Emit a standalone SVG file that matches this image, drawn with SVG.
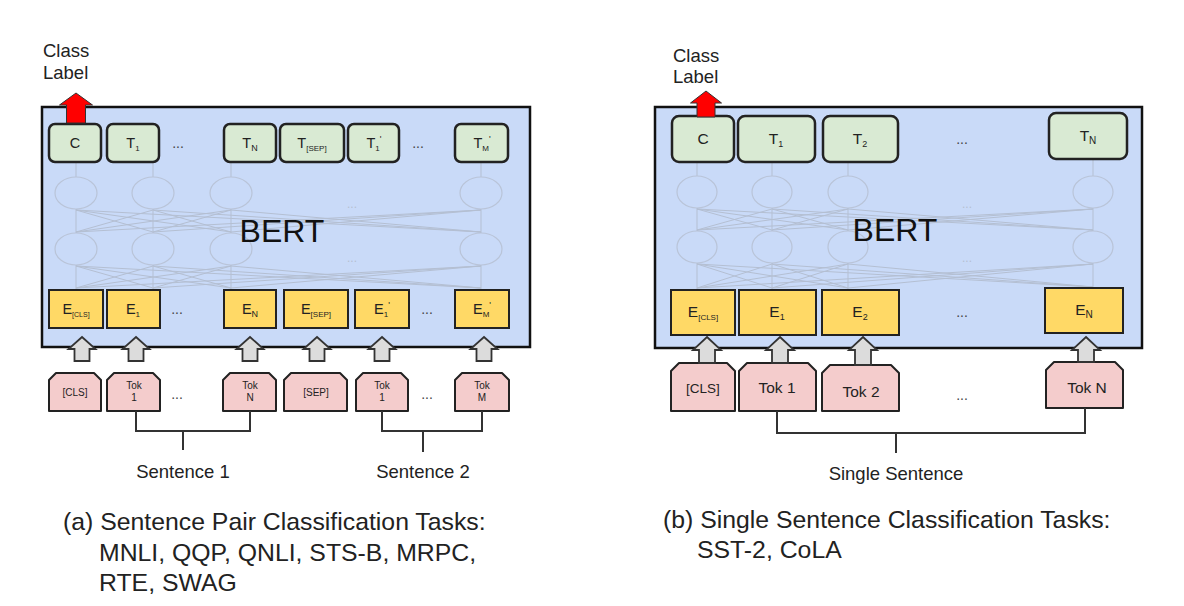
<svg xmlns="http://www.w3.org/2000/svg" width="1184" height="606" viewBox="0 0 1184 606">
<defs>
<style>
text{font-family:"Liberation Sans",Arial,sans-serif;fill:#222}
.bert{fill:#c9daf8;stroke:#111;stroke-width:2.5}
.tbox{fill:#d9ead3;stroke:#222;stroke-width:2.5}
.ebox{fill:#ffd966;stroke:#222;stroke-width:2}
.tok{fill:#f4cccc;stroke:#222;stroke-width:2;stroke-linejoin:round}
.garr{fill:#dcdcdc;stroke:#333;stroke-width:1.8;stroke-linejoin:miter}
.rarr{fill:#ff0000;stroke:#333;stroke-width:1}
.br{fill:none;stroke:#333;stroke-width:2}
.net{fill:none;stroke:#b4bfd2;stroke-width:1}
.nc{fill:none;stroke:#b9c4d8;stroke-width:1.2}
.lbl{font-size:14.5px;text-anchor:middle}
.lblr{font-size:15.5px;text-anchor:middle}
.sm{font-size:10px;text-anchor:middle}
.dots{font-size:14px;text-anchor:middle;fill:#444}
.fd{font-size:12px;text-anchor:middle;fill:#b5bfd0}
.big{font-size:32px;text-anchor:middle;fill:#111}
.cap{font-size:18.5px}
.capb{font-size:24.8px}
</style>
</defs>
<rect width="1184" height="606" fill="#fff"/>

<!-- ================= LEFT PANEL ================= -->
<g id="bert-a">
<rect class="bert" x="42" y="107" width="488" height="240"/>
<g id="net-a">
<line class="net" x1="76" y1="162" x2="76" y2="177"/>
<line class="net" x1="153" y1="162" x2="153" y2="177"/>
<line class="net" x1="231" y1="162" x2="231" y2="177"/>
<line class="net" x1="481" y1="162" x2="481" y2="177"/>
<ellipse class="nc" cx="76" cy="193" rx="21" ry="16"/>
<ellipse class="nc" cx="153" cy="193" rx="21" ry="16"/>
<ellipse class="nc" cx="231" cy="193" rx="21" ry="16"/>
<ellipse class="nc" cx="481" cy="193" rx="21" ry="16"/>
<ellipse class="nc" cx="76" cy="249" rx="21" ry="16"/>
<ellipse class="nc" cx="153" cy="249" rx="21" ry="16"/>
<ellipse class="nc" cx="231" cy="249" rx="21" ry="16"/>
<ellipse class="nc" cx="481" cy="249" rx="21" ry="16"/>
<path class="net" d="M76 209V233M153 209V233M231 209V233M481 209V233M76 210L153 232M76 210L231 232M76 210L481 232M153 210L76 232M153 210L231 232M153 210L481 232M231 210L76 232M231 210L153 232M231 210L481 232M481 210L76 232M481 210L153 232M481 210L231 232"/>
<path class="net" d="M76 265V289M153 265V289M231 265V289M481 265V289M76 266L153 288M76 266L231 288M76 266L481 288M153 266L76 288M153 266L231 288M153 266L481 288M231 266L76 288M231 266L153 288M231 266L481 288M481 266L76 288M481 266L153 288M481 266L231 288"/>
<text class="fd" x="352" y="208">...</text>
<text class="fd" x="352" y="262">...</text>
</g>
<text class="big" x="282" y="242">BERT</text>
</g>

<g id="out-a">
<g id="a-C"><rect class="tbox" x="49" y="124" width="52" height="38" rx="6"/><text class="lbl" x="75" y="148">C</text></g>
<g id="a-T1"><rect class="tbox" x="107" y="124" width="52" height="38" rx="6"/><text class="lbl" x="133" y="148">T<tspan font-size="8" dy="3">1</tspan></text></g>
<text class="dots" x="178" y="148">...</text>
<g id="a-TN"><rect class="tbox" x="224" y="124" width="52" height="38" rx="6"/><text class="lbl" x="250" y="148">T<tspan font-size="9" dy="3">N</tspan></text></g>
<g id="a-TSEP"><rect class="tbox" x="280" y="124" width="64" height="38" rx="6"/><text class="lbl" x="312" y="148">T<tspan font-size="8" dy="3">[SEP]</tspan></text></g>
<g id="a-T1p"><rect class="tbox" x="348" y="124" width="51" height="38" rx="6"/><text class="lbl" x="374" y="148">T<tspan font-size="8" dy="3">1</tspan><tspan font-size="9" dy="-9">'</tspan></text></g>
<text class="dots" x="418" y="148">...</text>
<g id="a-TMp"><rect class="tbox" x="455" y="124" width="53" height="38" rx="6"/><text class="lbl" x="482" y="148">T<tspan font-size="8" dy="3">M</tspan><tspan font-size="9" dy="-9">'</tspan></text></g>
</g>

<g id="emb-a">
<g id="a-ECLS"><rect class="ebox" x="49" y="290" width="54" height="38"/><text class="lbl" x="76" y="314">E<tspan font-size="7" dy="3">[CLS]</tspan></text></g>
<g id="a-E1"><rect class="ebox" x="107" y="290" width="53" height="38"/><text class="lbl" x="133" y="314">E<tspan font-size="8" dy="3">1</tspan></text></g>
<text class="dots" x="177" y="314">...</text>
<g id="a-EN"><rect class="ebox" x="224" y="290" width="52" height="38"/><text class="lbl" x="250" y="314">E<tspan font-size="9" dy="3">N</tspan></text></g>
<g id="a-ESEP"><rect class="ebox" x="284" y="290" width="64" height="38"/><text class="lbl" x="316" y="314">E<tspan font-size="8" dy="3">[SEP]</tspan></text></g>
<g id="a-E1p"><rect class="ebox" x="355" y="290" width="54" height="38"/><text class="lbl" x="382" y="314">E<tspan font-size="8" dy="3">1</tspan><tspan font-size="9" dy="-9">'</tspan></text></g>
<text class="dots" x="427" y="314">...</text>
<g id="a-EMp"><rect class="ebox" x="455" y="290" width="54" height="38"/><text class="lbl" x="482" y="314">E<tspan font-size="8" dy="3">M</tspan><tspan font-size="9" dy="-9">'</tspan></text></g>
</g>

<g id="tok-a">
<g id="a-tCLS"><path class="tok" d="M49 380L56 373H94L101 380V411H49Z"/><text class="sm" x="75" y="396" font-size="8.5">[CLS]</text></g>
<g id="a-tok1"><path class="tok" d="M107 380L114 373H153L160 380V411H107Z"/><text class="sm" x="134" y="389">Tok</text><text class="sm" x="134" y="401">1</text></g>
<text class="dots" x="177" y="399">...</text>
<g id="a-tokN"><path class="tok" d="M223 380L230 373H269L276 380V411H223Z"/><text class="sm" x="250" y="389">Tok</text><text class="sm" x="250" y="401">N</text></g>
<g id="a-tSEP"><path class="tok" d="M284 380L291 373H340L347 380V411H284Z"/><text class="sm" x="316" y="396" font-size="8.5">[SEP]</text></g>
<g id="a-tok1p"><path class="tok" d="M356 380L363 373H401L408 380V411H356Z"/><text class="sm" x="382" y="389">Tok</text><text class="sm" x="382" y="401">1</text></g>
<text class="dots" x="427" y="399">...</text>
<g id="a-tokM"><path class="tok" d="M455 380L462 373H502L509 380V411H455Z"/><text class="sm" x="482" y="389">Tok</text><text class="sm" x="482" y="401">M</text></g>
</g>

<g id="labels-a">
<text class="cap" x="43" y="57">Class</text>
<text class="cap" x="43" y="79">Label</text>
<text class="cap" x="183" y="478" text-anchor="middle">Sentence 1</text>
<text class="cap" x="423" y="478" text-anchor="middle">Sentence 2</text>
<text class="capb" x="63" y="530">(a) Sentence Pair Classification Tasks:</text>
<text class="capb" x="99" y="561">MNLI, QQP, QNLI, STS-B, MRPC,</text>
<text class="capb" x="99" y="591">RTE, SWAG</text>
</g>

<!-- ================= RIGHT PANEL ================= -->
<g id="bert-b">
<rect class="bert" x="655" y="107" width="487" height="241"/>
<g id="net-b">
<line class="net" x1="697" y1="162" x2="697" y2="176"/>
<line class="net" x1="772" y1="162" x2="772" y2="176"/>
<line class="net" x1="848" y1="162" x2="848" y2="176"/>
<line class="net" x1="1093" y1="159" x2="1093" y2="176"/>
<ellipse class="nc" cx="697" cy="192" rx="20" ry="16"/>
<ellipse class="nc" cx="772" cy="192" rx="20" ry="16"/>
<ellipse class="nc" cx="848" cy="192" rx="20" ry="16"/>
<ellipse class="nc" cx="1093" cy="192" rx="20" ry="16"/>
<ellipse class="nc" cx="697" cy="247" rx="20" ry="16"/>
<ellipse class="nc" cx="772" cy="247" rx="20" ry="16"/>
<ellipse class="nc" cx="848" cy="247" rx="20" ry="16"/>
<ellipse class="nc" cx="1093" cy="247" rx="20" ry="16"/>
<path class="net" d="M697 208V231M772 208V231M848 208V231M1093 208V231M697 209L772 230M697 209L848 230M697 209L1093 230M772 209L697 230M772 209L848 230M772 209L1093 230M848 209L697 230M848 209L772 230M848 209L1093 230M1093 209L697 230M1093 209L772 230M1093 209L848 230"/>
<path class="net" d="M697 263V289M772 263V289M848 263V289M1093 263V288M697 264L772 288M697 264L848 288M697 264L1093 287M772 264L697 288M772 264L848 288M772 264L1093 287M848 264L697 288M848 264L772 288M848 264L1093 287M1093 264L697 288M1093 264L772 288M1093 264L848 288"/>
<text class="fd" x="967" y="208">...</text>
<text class="fd" x="967" y="262">...</text>
</g>
<text class="big" x="895" y="241">BERT</text>
</g>

<g id="out-b">
<g id="b-C"><rect class="tbox" x="672" y="116" width="62" height="46" rx="7"/><text class="lblr" x="703" y="144">C</text></g>
<g id="b-T1"><rect class="tbox" x="738" y="116" width="77" height="46" rx="7"/><text class="lblr" x="776" y="144">T<tspan font-size="9" dy="3">1</tspan></text></g>
<g id="b-T2"><rect class="tbox" x="823" y="116" width="75" height="46" rx="7"/><text class="lblr" x="860" y="144">T<tspan font-size="9" dy="3">2</tspan></text></g>
<text class="dots" x="962" y="144">...</text>
<g id="b-TN"><rect class="tbox" x="1049" y="113" width="78" height="46" rx="7"/><text class="lblr" x="1088" y="141">T<tspan font-size="10" dy="3">N</tspan></text></g>
</g>

<g id="emb-b">
<g id="b-ECLS"><rect class="ebox" x="671" y="290" width="64" height="45"/><text class="lblr" x="703" y="317">E<tspan font-size="8" dy="3">[CLS]</tspan></text></g>
<g id="b-E1"><rect class="ebox" x="739" y="290" width="77" height="45"/><text class="lblr" x="777" y="317">E<tspan font-size="9" dy="3">1</tspan></text></g>
<g id="b-E2"><rect class="ebox" x="822" y="290" width="77" height="45"/><text class="lblr" x="860" y="317">E<tspan font-size="9" dy="3">2</tspan></text></g>
<text class="dots" x="962" y="317">...</text>
<g id="b-EN"><rect class="ebox" x="1045" y="288" width="78" height="45"/><text class="lblr" x="1084" y="315">E<tspan font-size="10" dy="3">N</tspan></text></g>
</g>

<g id="tok-b">
<g id="b-tCLS"><path class="tok" d="M671 371L679 363H727L735 371V411H671Z"/><text x="703" y="393" font-size="13.5" text-anchor="middle">[CLS]</text></g>
<g id="b-tok1"><path class="tok" d="M739 371L747 363H808L816 371V411H739Z"/><text x="777" y="393" font-size="15.5" text-anchor="middle">Tok 1</text></g>
<g id="b-tok2"><path class="tok" d="M822 373L830 365H891L899 373V411H822Z"/><text x="861" y="397" font-size="15.5" text-anchor="middle">Tok 2</text></g>
<text class="dots" x="962" y="400">...</text>
<g id="b-tokN"><path class="tok" d="M1046 370L1054 362H1115L1123 370V408H1046Z"/><text x="1087" y="393" font-size="15.5" text-anchor="middle">Tok N</text></g>
</g>

<g id="labels-b">
<text class="cap" x="673" y="62">Class</text>
<text class="cap" x="673" y="83">Label</text>
<text class="cap" x="896" y="480" text-anchor="middle">Single Sentence</text>
<text class="capb" x="663" y="528">(b) Single Sentence Classification Tasks:</text>
<text class="capb" x="697" y="558">SST-2, CoLA</text>
</g>

<!-- ================= CONNECTORS ================= -->
<g id="connectors">
<path class="rarr" d="M76 93L92.5 105H85.5V123H66.5V105H59.5Z"/>
<path class="rarr" d="M706 91L721.5 103H715V117H697V103H690.5Z"/>
<path class="garr" d="M82 337L95.5 349H89.5V361H74.5V349H68.5Z"/>
<path class="garr" d="M136 337L149.5 349H143.5V361H128.5V349H122.5Z"/>
<path class="garr" d="M250 337L263.5 349H257.5V361H242.5V349H236.5Z"/>
<path class="garr" d="M317 337L330.5 349H324.5V361H309.5V349H303.5Z"/>
<path class="garr" d="M382 337L395.5 349H389.5V361H374.5V349H368.5Z"/>
<path class="garr" d="M484 337L497.5 349H491.5V361H476.5V349H470.5Z"/>
<path class="garr" d="M707 337L721 350H715V363H699V350H693Z"/>
<path class="garr" d="M780 337L794 350H788V363H772V350H766Z"/>
<path class="garr" d="M863 337L877 350H871V365H855V350H849Z"/>
<path class="garr" d="M1086 337L1100 350H1094V362H1078V350H1072Z"/>
<path class="br" d="M136 411V431H250V411M183 431V450"/>
<path class="br" d="M382 411V431H482V411M423 431V452"/>
<path class="br" d="M777 411V433H1085V408M896 433V453"/>
</g>
</svg>
